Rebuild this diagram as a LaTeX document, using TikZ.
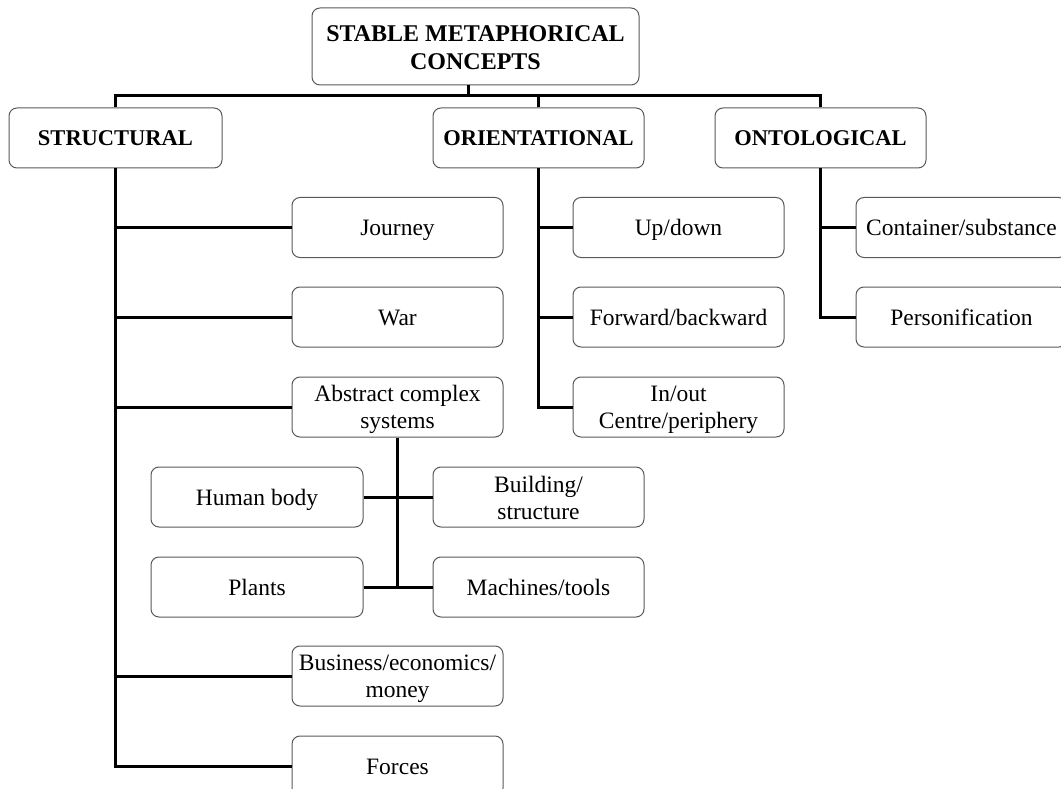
\documentclass[tikz,border=0pt]{standalone}
\usepackage{fontspec}
\setmainfont{Liberation Serif}
\newcommand\upstrut[1]{\rule{0pt}{#1}}
\newcommand\downstrut{\rule[-5pt]{0pt}{5pt}}
\begin{document}
\begin{tikzpicture}[x=1pt,y=-1pt,
  box/.style={draw=black!65, line width=1pt, rounded corners=8pt,
    minimum height=60pt, minimum width=211pt, inner sep=0pt,
    font=\fontsize{23.5}{27}\selectfont},
  single/.style={box, text height=22pt, text depth=5pt},
  double/.style={box, align=center},
  headbox/.style={box, font=\bfseries\fontsize{22.5}{28}\selectfont},
  link/.style={line width=3pt}]
\useasboundingbox (0,0) rectangle (1061,789);

% root and the three main kinds
\node[headbox, align=center, minimum width=327pt, minimum height=77pt,
      font=\bfseries\fontsize{24}{28}\selectfont] (root) at (475.5,46.5)
  {\upstrut{24pt}STABLE METAPHORICAL\\CONCEPTS\downstrut};
\node[headbox, minimum width=213pt, text height=21pt, text depth=5pt] (st) at (115.5,138) {STRUCTURAL};
\node[headbox, text height=21pt, text depth=5pt] (ori) at (538.5,138) {ORIENTATIONAL};
\node[headbox, text height=21pt, text depth=5pt] (ont) at (820.5,138) {ONTOLOGICAL};

% structural
\node[single] (journey) at (397.5,227.5) {Journey};
\node[single] (war) at (397.5,317) {War};
\node[double] (abs) at (397.5,407) {\upstrut{22pt}Abstract complex\\systems\downstrut};
\node[double] (busi) at (397.5,676) {\upstrut{22pt}Business/economics/\\money\downstrut};
\node[single] (forces) at (397.5,766) {Forces};

% abstract complex systems
\node[single, minimum width=212pt] (body) at (257,497) {Human body};
\node[double] (bld) at (538.5,497) {\upstrut{22pt}Building/\\structure\downstrut};
\node[single, minimum width=212pt] (plants) at (257,587) {Plants};
\node[single] (mach) at (538.5,587) {Machines/tools};

% orientational
\node[single] (updown) at (678.5,227.5) {Up/down};
\node[single] (fwd) at (678.5,317) {Forward/backward};
\node[double] (inout) at (678.5,407) {\upstrut{22pt}In/out\\Centre/periphery\downstrut};

% ontological
\node[single] (cont) at (961.5,227.5) {Container/substance};
\node[single] (pers) at (961.5,317) {Personification};

% connectors
\coordinate (bus) at (0,96);
\draw[link] (st.north) |- (bus -| ont.north) -- (ont.north);
\draw[link] (ori.north) -- (ori.north |- bus);
\draw[link] ([xshift=-7.5pt]root.south) -- ([xshift=-7.5pt]root.south |- bus);

\draw[link] (st.south) |- (forces.west);
\foreach \n in {journey,war,abs,busi}
  \draw[link] (st.south |- \n.west) -- (\n.west);

\draw[link] (abs.south) -- (abs.south |- mach.west);
\draw[link] (body.east) -- (bld.west);
\draw[link] (plants.east) -- (mach.west);

\draw[link] (ori.south) |- (inout.west);
\draw[link] (ori.south |- updown.west) -- (updown.west);
\draw[link] (ori.south |- fwd.west) -- (fwd.west);

\draw[link] (ont.south) |- (pers.west);
\draw[link] (ont.south |- cont.west) -- (cont.west);
\end{tikzpicture}
\end{document}
